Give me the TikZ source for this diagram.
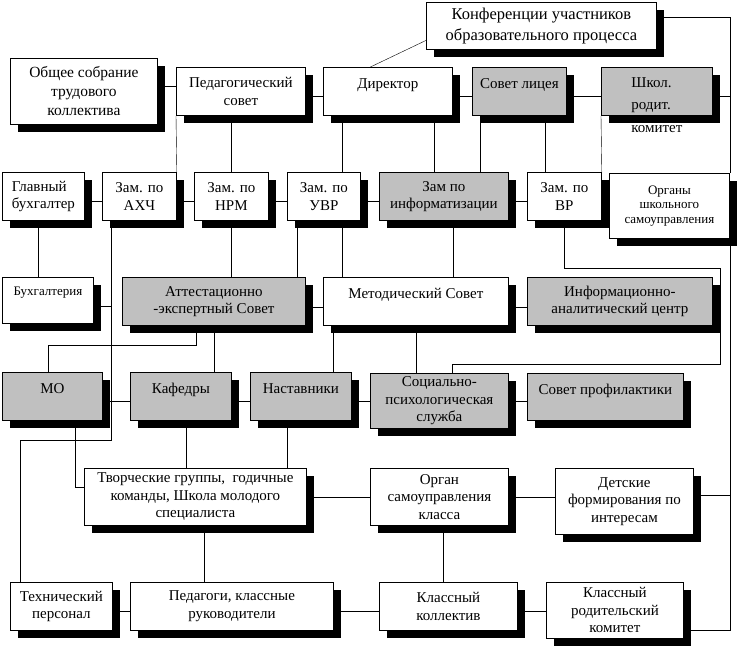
\documentclass[tikz,border=0pt]{standalone}
\usepackage{fontspec}
\setmainfont{Liberation Serif}
\usetikzlibrary{shadows,backgrounds}
\definecolor{silv}{RGB}{192,192,192}

\begin{document}
\begin{tikzpicture}[x=1pt,y=-1pt]
\tikzset{BoxStyle/.style={draw, fill=white, line width=0.8pt, anchor=north west, align=center, inner sep=2pt,
  font=\fontsize{15}{17.5}\selectfont,
  drop shadow={shadow xshift=8pt, shadow yshift=-8pt, fill=black, opacity=1}}}
\tikzset{GrayBox/.style={BoxStyle, fill=silv}}
\tikzset{TopText/.style={text height=21pt, text depth=#1, inner ysep=0pt}}
\tikzset{EdgeStyle/.style={line width=0.8pt}}
\useasboundingbox (0,0) rectangle (739,649);
\node[BoxStyle, minimum width=230, minimum height=47, font=\fontsize{16.5}{21}\selectfont] (konf) at (426,2) {Конференции участников\\образовательного процесса};
\node[BoxStyle, minimum width=147, minimum height=66, font=\fontsize{15.5}{19}\selectfont] (obsh) at (10,58) {Общее собрание\\трудового\\коллектива};
\node[BoxStyle, minimum width=129, minimum height=48] (ped) at (176,67) {Педагогический\\совет};
\node[BoxStyle, TopText=27pt, minimum width=129] (dir) at (323,67) {Директор};
\node[GrayBox, TopText=27pt, minimum width=94] (sovlic) at (472,67) {Совет лицея};
\node[GrayBox, minimum width=111, minimum height=48] (shkol) at (601,67) {};
\node[anchor=north, align=left, inner sep=0pt, font=\fontsize{15}{22.5}\selectfont] (shkoltxt) at ([yshift=-10pt]shkol.north) {Школ.\\родит.\\комитет};
\node[BoxStyle, align=left, minimum width=82, minimum height=48] (glbuh) at (2,172) {Главный\\бухгалтер};
\node[BoxStyle, minimum width=74, minimum height=48] (axch) at (102,172) {Зам. по\\АХЧ};
\node[BoxStyle, minimum width=74, minimum height=48] (nrm) at (194,172) {Зам. по\\НРМ};
\node[BoxStyle, minimum width=73, minimum height=48] (uvr) at (287,172) {Зам. по\\УВР};
\node[GrayBox, minimum width=129, minimum height=48] (inf) at (379,172) {Зам по\\информатизации};
\node[BoxStyle, minimum width=74, minimum height=48] (vr) at (527,172) {Зам. по\\ВР};
\node[BoxStyle, minimum width=120, minimum height=65, font=\fontsize{13}{14.5}\selectfont] (organy) at (609,173) {Органы\\школьного\\самоуправления};
\node[BoxStyle, TopText=28pt, text height=18pt, minimum width=91, font=\fontsize{13}{15}\selectfont] (buh) at (2,277) {Бухгалтерия};
\node[GrayBox, minimum width=183, minimum height=48] (att) at (122,277) {Аттестационно\\-экспертный Совет};
\node[BoxStyle, TopText=27pt, minimum width=185] (met) at (323,277) {Методический Совет};
\node[GrayBox, minimum width=185, minimum height=48] (iac) at (527,277) {Информационно-\\аналитический центр};
\node[GrayBox, TopText=27pt, minimum width=100] (mo) at (2,372) {МО};
\node[GrayBox, TopText=27pt, minimum width=101] (kaf) at (130,372) {Кафедры};
\node[GrayBox, TopText=27pt, minimum width=101] (nast) at (250,372) {Наставники};
\node[GrayBox, minimum width=138, minimum height=55] (soc) at (370,373) {Социально-\\психологическая\\служба};
\node[GrayBox, TopText=26pt, minimum width=156] (prof) at (527,373) {Совет профилактики};
\node[BoxStyle, minimum width=222, minimum height=57] (tvor) at (84,468) {Творческие группы, \ годичные\\команды, Школа молодого\\специалиста};
\node[BoxStyle, minimum width=138, minimum height=57] (organ) at (370,468) {Орган\\самоуправления\\класса};
\node[BoxStyle, minimum width=138, minimum height=66] (det) at (555,468) {Детские\\формирования по\\интересам};
\node[BoxStyle, minimum width=102, minimum height=48] (tech) at (10,582) {Технический\\персонал};
\node[BoxStyle, minimum width=203, minimum height=48] (pedkl) at (130,582) {Педагоги, классные\\руководители};
\node[BoxStyle, minimum width=138, minimum height=48] (klkol) at (379,582) {Классный\\коллектив};
\node[BoxStyle, minimum width=137, minimum height=56] (klrod) at (546,582) {Классный\\родительский\\комитет};
\begin{scope}[on background layer, EdgeStyle]
\fill[white] (0,0) rectangle (739,649);
\draw ([yshift=5pt]obsh.east) -- ([yshift=5pt]ped.west);
\draw ([yshift=-5pt]ped.east) -- ([yshift=-5pt]shkol.east) -- ++(17,0);
\draw ([yshift=8.5pt]konf.east) -| (organy.north east);
\draw (organy.south east) |- ([yshift=9pt]klrod.south east);
\draw ([yshift=-14.5pt]konf.west) -- ([xshift=-17.5pt]dir.north);
\draw (ped.south west) -- (axch.north east);
\draw (nrm.north) -- (nrm.north |- ped.south);
\draw ([xshift=18pt]uvr.north) -- ++(0,-57);
\draw ([xshift=-10pt]inf.north) -- ++(0,-57);
\draw ([xshift=8pt]sovlic.south west) -- ++(0,57);
\draw ([xshift=-19pt]vr.north) -- ++(0,-57);
\draw (shkol.south west) -- (vr.north east);
\draw ([yshift=-4.5pt]glbuh.east) -- ([yshift=5pt]organy.west);
\draw ([xshift=-5pt]glbuh.south) -- ++(0,57);
\draw ([xshift=9pt]axch.south west) -- ++(0,219) -| ([xshift=10pt]tech.north west);
\draw ([yshift=-6pt]buh.east) -- ++(18,0);
\draw (nrm.south) -- (nrm.south |- att.north);
\draw ([xshift=-27pt]uvr.south) -- ++(0,57);
\draw ([xshift=18pt]uvr.south) -- ++(0,57);
\draw ([xshift=9pt]inf.south) -- ++(0,57);
\draw (vr.south) -- ++(0,47) -- ++(156,0) -- ++(0,96) -| ([xshift=13pt]soc.north);
\draw ([yshift=-5.5pt]att.east) -- ([yshift=-5.5pt]iac.west);
\draw ([xshift=-18pt]att.south) -- ++(0,19) -| ([xshift=-4pt]mo.north);
\draw (att.south) -- (att.south |- kaf.north);
\draw ([xshift=10pt]met.south west) -- ++(0,47);
\draw (met.south) -- (met.south |- soc.north);
\draw ([yshift=-5pt]mo.east) -- ([yshift=-4.5pt]prof.west);
\draw ([xshift=-28pt]mo.south east) |- ([yshift=10pt]tvor.west);
\draw ([xshift=5pt]kaf.south) -- ++(0,48);
\draw ([xshift=-14pt]nast.south) -- ++(0,48);
\draw (tvor) -- (det.west |- tvor);
\draw ([yshift=6pt]det.east) -- ++(36,0);
\draw ([xshift=9pt]tvor.south) -- ++(0,57);
\draw ([xshift=4pt]organ.south) -- ++(0,57);
\draw ([yshift=-5pt]tech.east) -- ([yshift=-1pt]klrod.west);
\end{scope}
\end{tikzpicture}
\end{document}
